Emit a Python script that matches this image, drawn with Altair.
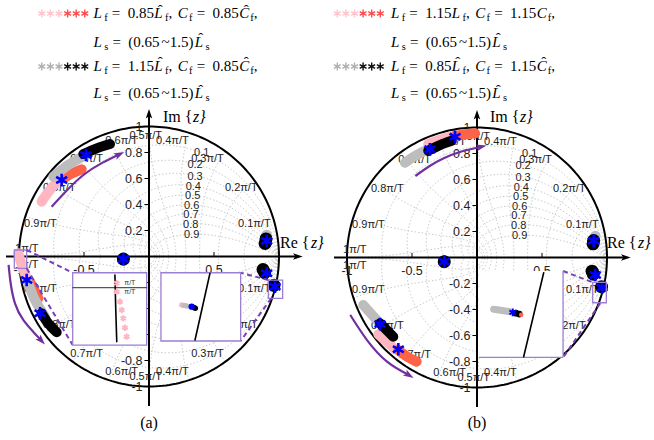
import numpy as np
import pandas as pd
import altair as alt

PW, PH, R = 327, 440, 130.0

# ---------------- shared grid / axis values ----------------
ZETA = [0.1, 0.2, 0.3, 0.4, 0.5, 0.6, 0.7, 0.8, 0.9]
ZETA_LABELS = ["0.1", "0.2", "0.3", "0.4", "0.5", "0.6", "0.7", "0.8", "0.9"]
WN = [0.1, 0.2, 0.3, 0.4, 0.5, 0.6, 0.7, 0.8, 0.9, 1.0]          # x pi/T
WN_LABELS = ["0.1π/T", "0.2π/T", "0.3π/T", "0.4π/T", "0.5π/T",
             "0.6π/T", "0.7π/T", "0.8π/T", "0.9π/T", "1π/T"]
Y_TICKS = [1, 0.8, 0.6, 0.4, 0.2, -0.2, -0.4, -0.6, -0.8, -1]
Y_TICK_LABELS = ["1", "0.8", "0.6", "0.4", "0.2", "-0.2", "-0.4", "-0.6", "-0.8", "-1"]
X_TICKS = [-1, -0.5, 0.5]
X_TICK_LABELS = ["-1", "-0.5", "0.5"]

# ---------------- panel (a) values ----------------
A_UP_PINK = [(-0.826, 0.422), (-0.762, 0.512), (-0.698, 0.583)]
A_UP_RED = [(-0.659, 0.601), (-0.59, 0.64), (-0.518, 0.671)]
A_UP_GRAY = [(-0.736, 0.614), (-0.621, 0.704), (-0.505, 0.773)]
A_UP_BLACK = [(-0.505, 0.788), (-0.402, 0.832), (-0.30, 0.865)]
A_LO_PINK = [(-1.005, 0.025), (-0.979, -0.065), (-0.941, -0.168)]
A_LO_RED = [(-0.915, -0.194), (-0.882, -0.258), (-0.851, -0.322)]
A_LO_GRAY = [(-0.928, -0.206), (-0.877, -0.335), (-0.80, -0.463)]
A_LO_BLACK = [(-0.826, -0.437), (-0.775, -0.514), (-0.71, -0.583)]
A_STARS = [(-0.672, 0.588), (-0.485, 0.781), (-0.941, -0.181), (-0.838, -0.437),
           (-0.197, -0.02), (0.905, 0.12), (0.905, -0.129), (0.969, -0.232)]
A_BLOBS = [(-0.197, -0.02), (0.893, 0.10), (0.90, 0.135), (0.877, -0.10),
           (0.89, -0.125), (0.962, -0.222)]
A_BLOB_GRAY = [(0.905, 0.165)]
A_ARROW_UP = [(-0.749, 0.383), (-0.64, 0.50), (-0.505, 0.627), (-0.36, 0.72), (-0.23, 0.785)]
A_ARROW_LO = [(-1.08, -0.065), (-1.065, -0.2), (-1.031, -0.36), (-0.967, -0.488),
              (-0.89, -0.58), (-0.83, -0.645)]
A_BOXES = [(-1.036, 0.05, -0.941, -0.091), (0.918, -0.181, 1.028, -0.322)]
A_INSETS = [(-0.587, -0.125, -0.018, -0.681), (0.092, -0.125, 0.705, -0.65)]
A_DASHES = [(-0.941, 0.05, -0.587, -0.125), (-0.941, -0.091, -0.587, -0.681),
            (0.918, -0.181, 0.705, -0.125), (0.94, -0.322, 0.705, -0.65)]
A_IN_L_CIRCLE = [(-0.262, -0.142), (-0.256, -0.398), (-0.248, -0.655)]
A_IN_L_AXIS_Y = -0.24
A_IN_L_PINK = [(-0.248, -0.206), (-0.248, -0.27), (-0.223, -0.347), (-0.21, -0.412),
               (-0.198, -0.476), (-0.185, -0.548), (-0.172, -0.617)]
A_IN_L_LABELS = [(-0.19, -0.205), (-0.19, -0.272)]
A_IN_R_CIRCLE = [(0.469, -0.129), (0.354, -0.642)]
A_IN_R_PINK = [(0.252, -0.373)]
A_IN_R_GRAY = [(0.27, -0.376), (0.29, -0.38)]
A_IN_R_BLACK = [(0.345, -0.393), (0.356, -0.398)]
A_IN_R_STAR = [(0.328, -0.386)]
A_LEG_COEF = [("0.85", "0.85"), ("1.15", "0.85")]
A_LEG_HAT = [(True, True), (True, True)]

# ---------------- panel (b) values ----------------
B_UP_PINK = [(-0.375, 0.873), (-0.285, 0.905), (-0.195, 0.935)]
B_UP_RED = [(-0.169, 0.935), (-0.092, 0.948), (-0.015, 0.955)]
B_UP_GRAY = [(-0.554, 0.729), (-0.477, 0.781), (-0.387, 0.827)]
B_UP_BLACK = [(-0.375, 0.822), (-0.285, 0.865), (-0.195, 0.898)]
B_LO_PINK = [(-0.759, -0.591), (-0.695, -0.647), (-0.631, -0.706)]
B_LO_RED = [(-0.605, -0.712), (-0.536, -0.763), (-0.464, -0.801)]
B_LO_GRAY = [(-0.875, -0.365), (-0.818, -0.429), (-0.759, -0.494)]
B_LO_BLACK = [(-0.746, -0.506), (-0.695, -0.558), (-0.644, -0.609)]
B_STARS = [(-0.362, 0.832), (-0.169, 0.929), (-0.746, -0.512), (-0.605, -0.706),
           (-0.252, -0.032), (0.897, 0.129), (0.91, -0.135), (0.962, -0.232)]
B_BLOBS = [(-0.252, -0.032), (0.893, 0.105), (0.897, 0.13), (0.885, -0.105),
           (0.895, -0.128), (0.958, -0.225)]
B_BLOB_GRAY = [(0.91, 0.165)]
B_ARROW_UP = [(-0.474, 0.627), (-0.37, 0.70), (-0.256, 0.763), (-0.12, 0.815), (0.031, 0.852)]
B_ARROW_LO = [(-0.975, -0.442), (-0.846, -0.635), (-0.692, -0.801), (-0.525, -0.904)]
B_BOXES = [(0.89, -0.191, 0.995, -0.348)]
B_INSETS = [(0.015, -0.104, 0.662, -0.768)]
B_DASHES = [(0.662, -0.104, 0.897, -0.194), (0.948, -0.352, 0.667, -0.763)]
B_IN_CIRCLE = [(0.513, -0.117), (0.359, -0.763)]
B_IN_GRAY = [(0.128, -0.398), (0.244, -0.415)]
B_IN_BLACK = [(0.30, -0.428), (0.325, -0.435)]
B_IN_RED = [(0.34, -0.44)]
B_IN_STAR = [(0.275, -0.422)]
B_LEG_COEF = [("1.15", "1.15"), ("0.85", "1.15")]
B_LEG_HAT = [(False, False), (True, True)]

LS_RANGE = ("0.65", "1.5")

# ---------------- layout constants (not data) ----------------
WN_POS_X = [0.81, 0.71, 0.45, 0.18, -0.025, -0.21, -0.48, -0.69, -0.835, -0.94]
WN_POS_Y = [0.25, 0.53, 0.75, 0.89, 0.93, 0.89, 0.75, 0.53, 0.25, 0.055]
ZETA_POS_X = [0.405, 0.354, 0.354, 0.341, 0.336, 0.328, 0.323, 0.321, 0.328]
ZETA_POS_Y = [0.795, 0.705, 0.615, 0.538, 0.462, 0.392, 0.321, 0.244, 0.167]

PINK, RED, GRAY, BLACK, BLUE = "#ffb6c1", "#ff6347", "#bdbdbd", "#000000", "#0000ff"
PURPLE, BOXC = "#7030a0", "#9b7fd4"
ASTER = "M0,-1L0,1M-0.866,-0.5L0.866,0.5M-0.866,0.5L0.866,-0.5"
STEALTH = "M0,-1L0.62,0.85L0,0.4L-0.62,0.85Z"
SERIF, SANS = "Liberation Serif", "Liberation Sans"
S = 15.0

CW = {c: 0.5 for c in "0123456789"}
CW.update({".": 0.278, ",": 0.278, "=": 0.778, "(": 0.389, ")": 0.389, "~": 0.5})
IT_W = {"L": 0.681, "C": 0.715}
SUB_W = {"f": 0.26, "s": 0.30}
HAT_OFF = {"L": 0.40, "C": 0.47}


def eq1(cl, cc, hl, hc):
    return [("it", "L"), ("sub", "f"), ("sp", 0.278), ("rm", "="), ("sp", 0.278),
            ("rm", cl), ("hit" if hl else "it", "L"), ("sub", "f"), ("rm", ","), ("sp", 0.35),
            ("it", "C"), ("sub", "f"), ("sp", 0.278), ("rm", "="), ("sp", 0.278),
            ("rm", cc), ("hit" if hc else "it", "C"), ("sub", "f"), ("rm", ",")]


def eq2():
    return [("it", "L"), ("sub", "s"), ("sp", 0.278), ("rm", "="), ("sp", 0.278),
            ("rm", "(" + LS_RANGE[0]), ("sp", 0.05), ("rm", "~"), ("sp", 0.05),
            ("rm", LS_RANGE[1] + ")"), ("hit", "L"), ("sub", "s")]


def layout(tokens, x0, base):
    rows, x = [], x0
    for kind, t in tokens:
        if kind == "sp":
            x += t * S
        elif kind == "rm":
            rows.append(("rm", x, base, t))
            x += sum(CW[c] for c in t) * S
        elif kind == "it":
            rows.append(("it", x, base, t))
            x += IT_W[t] * S
        elif kind == "hit":
            rows.append(("it", x, base, t))
            rows.append(("hat", x + HAT_OFF[t] * S, base - 3.5, "ˆ"))
            x += IT_W[t] * S
        elif kind == "sub":
            rows.append(("sub", x + 0.5, base + 3.2, t))
            x += SUB_W[t] * S
    return rows


def pts_df(pts, **extra):
    d = pd.DataFrame(pts, columns=["x", "y"])
    d["o"] = range(len(d))
    for k, v in extra.items():
        d[k] = v
    return d


def grid_df():
    rows = []
    th = np.linspace(0, np.pi, 81)
    for i, z in enumerate(ZETA):
        m = z / np.sqrt(1 - z * z)
        zz = np.exp(th * (-m + 1j))
        for s in (1, -1):
            for k in range(len(th)):
                rows.append((f"z{i}{s}", k, zz.real[k], s * zz.imag[k]))
    ph = np.linspace(np.pi / 2, np.pi, 41)
    for i, w in enumerate(WN):
        zw = np.exp(w * np.pi * np.exp(1j * ph))
        for s in (1, -1):
            for k in range(len(ph)):
                rows.append((f"w{i}{s}", k, zw.real[k], s * zw.imag[k]))
    return pd.DataFrame(rows, columns=["id", "o", "x", "y"])


def panel(cx, cy, d, label):
    xs = alt.Scale(domain=[(0 - cx) / R, (PW - cx) / R], nice=False, zero=False)
    ys = alt.Scale(domain=[(cy - PH) / R, cy / R], nice=False, zero=False)
    X = alt.X("x:Q", scale=xs, axis=None)
    Y = alt.Y("y:Q", scale=ys, axis=None)
    X2, Y2 = alt.X2("x2:Q"), alt.Y2("y2:Q")
    tx = lambda px: (px - cx) / R
    ty = lambda py: (cy - py) / R
    L = []

    # z-plane grid
    L.append(alt.Chart(grid_df()).mark_line(color="#bdbdbd", strokeWidth=0.8, strokeDash=[1.5, 2])
             .encode(x=X, y=Y, detail="id:N", order="o:Q"))
    # unit circle
    t = np.linspace(0, 2 * np.pi, 241)
    L.append(alt.Chart(pd.DataFrame({"x": np.cos(t), "y": np.sin(t), "o": range(len(t))}))
             .mark_line(color=BLACK, strokeWidth=2).encode(x=X, y=Y, order="o:Q"))
    # axes
    ax = pd.DataFrame({"x": [-1.10, 0.0], "y": [0.0, -1.15], "x2": [1.14, 0.0], "y2": [0.0, 1.10]})
    L.append(alt.Chart(ax).mark_rule(color=BLACK, strokeWidth=2).encode(x=X, y=Y, x2=X2, y2=Y2))
    heads = pd.DataFrame({"x": [1.142, 0.0], "y": [0.0, 1.095], "a": [90, 0]})
    L.append(alt.Chart(heads).mark_point(shape=STEALTH, filled=True, color=BLACK, size=110, opacity=1)
             .encode(x=X, y=Y, angle=alt.Angle("a:Q", scale=None)))
    tk = pd.DataFrame({"x": [-0.035] * len(Y_TICKS), "y": Y_TICKS, "x2": [0.0] * len(Y_TICKS), "y2": Y_TICKS})
    tk2 = pd.DataFrame({"x": X_TICKS, "y": [0.0] * len(X_TICKS), "x2": X_TICKS, "y2": [0.035] * len(X_TICKS)})
    L.append(alt.Chart(pd.concat([tk, tk2])).mark_rule(color=BLACK, strokeWidth=1).encode(x=X, y=Y, x2=X2, y2=Y2))
    # tick labels
    L.append(alt.Chart(pd.DataFrame({"x": [-0.05] * len(Y_TICKS), "y": Y_TICKS, "t": Y_TICK_LABELS}))
             .mark_text(font=SANS, fontSize=12.5, align="right", baseline="middle", color="#222")
             .encode(x=X, y=Y, text="t:N"))
    L.append(alt.Chart(pd.DataFrame({"x": X_TICKS, "y": [-0.105] * len(X_TICKS), "t": X_TICK_LABELS}))
             .mark_text(font=SANS, fontSize=12.5, align="center", baseline="middle", color="#222")
             .encode(x=X, y=Y, text="t:N"))
    # grid labels
    wl = pd.DataFrame({"x": WN_POS_X + WN_POS_X, "y": WN_POS_Y + [-v if v > 0.1 else -0.065 for v in WN_POS_Y],
                       "t": WN_LABELS + WN_LABELS})
    L.append(alt.Chart(wl).mark_text(font=SANS, fontSize=11, align="center", baseline="middle", color="#222")
             .encode(x=X, y=Y, text="t:N"))
    zl = pd.DataFrame({"x": ZETA_POS_X, "y": ZETA_POS_Y, "t": ZETA_LABELS})
    L.append(alt.Chart(zl).mark_text(font=SANS, fontSize=11, align="center", baseline="middle", color="#222")
             .encode(x=X, y=Y, text="t:N"))
    # axis names
    L.append(alt.Chart(pd.DataFrame({"x": [tx(163), tx(280)], "y": [ty(117), ty(243)], "t": ["Im {", "Re {"]}))
             .mark_text(font=SERIF, fontSize=16, align="left", baseline="middle", color=BLACK)
             .encode(x=X, y=Y, text="t:N"))
    L.append(alt.Chart(pd.DataFrame({"x": [tx(193), tx(311)], "y": [ty(117), ty(243)], "t": ["z}", "z}"]}))
             .mark_text(font=SERIF, fontSize=16, fontStyle="italic", align="left", baseline="middle", color=BLACK)
             .encode(x=X, y=Y, text="t:N"))

    # trails
    segs = []
    for i, (pts, col) in enumerate([(d["up_pink"], PINK), (d["up_red"], RED), (d["lo_pink"], PINK),
                                    (d["lo_red"], RED), (d["up_gray"], GRAY), (d["up_black"], BLACK),
                                    (d["lo_gray"], GRAY), (d["lo_black"], BLACK)]):
        segs.append(pts_df(pts, seg=i, c=col))
    L.append(alt.Chart(pd.concat(segs)).mark_line(strokeWidth=10, strokeCap="round", strokeJoin="round",
                                                  interpolate="natural")
             .encode(x=X, y=Y, detail="seg:N", order="o:Q", color=alt.Color("c:N", scale=None)))
    # blobs
    L.append(alt.Chart(pts_df(d["blob_gray"])).mark_circle(color=GRAY, size=110, opacity=1).encode(x=X, y=Y))
    L.append(alt.Chart(pts_df(d["blobs"])).mark_circle(color=BLACK, size=170, opacity=1).encode(x=X, y=Y))
    # blue stars
    L.append(alt.Chart(pts_df(d["stars"])).mark_point(shape=ASTER, filled=False, color=BLUE, size=160,
                                                      strokeWidth=2.6, opacity=1).encode(x=X, y=Y))
    # purple arrows
    arr = [pts_df(d["arrow_up"], seg=0), pts_df(d["arrow_lo"], seg=1)]
    L.append(alt.Chart(pd.concat(arr)).mark_line(color=PURPLE, strokeWidth=2.2, interpolate="natural")
             .encode(x=X, y=Y, detail="seg:N", order="o:Q"))
    hh = []
    for a in (d["arrow_up"], d["arrow_lo"]):
        (x0, y0), (x1, y1) = a[-2], a[-1]
        hh.append((x1, y1, float(np.degrees(np.arctan2(x1 - x0, y1 - y0)) % 360)))
    L.append(alt.Chart(pd.DataFrame(hh, columns=["x", "y", "a"]))
             .mark_point(shape=STEALTH, filled=True, color=PURPLE, size=130, opacity=1)
             .encode(x=X, y=Y, angle=alt.Angle("a:Q", scale=None)))
    # small zoom boxes
    bx = pd.DataFrame(d["boxes"], columns=["x", "y", "x2", "y2"])
    L.append(alt.Chart(bx).mark_rect(fill=None, fillOpacity=0, stroke=BOXC, strokeWidth=1.3)
             .encode(x=X, y=Y, x2=X2, y2=Y2))
    # dashed connectors
    ds = pd.DataFrame(d["dashes"], columns=["x", "y", "x2", "y2"])
    L.append(alt.Chart(ds).mark_rule(color="#7b3fb8", strokeWidth=2, strokeDash=[5, 3.5])
             .encode(x=X, y=Y, x2=X2, y2=Y2))
    # insets
    ins = pd.DataFrame(d["insets"], columns=["x", "y", "x2", "y2"])
    if d["inset_border"]:
        L.append(alt.Chart(ins).mark_rect(fill="white", stroke=BOXC, strokeWidth=1.3)
                 .encode(x=X, y=Y, x2=X2, y2=Y2))
    else:
        L.append(alt.Chart(ins).mark_rect(fill="white").encode(x=X, y=Y, x2=X2, y2=Y2))
        x0, y0, x1, y1 = d["insets"][0]
        br = pd.DataFrame({"x": [x1, x0], "y": [y0, y1], "x2": [x1, x1], "y2": [y1, y1]})
        L.append(alt.Chart(br).mark_rule(color=BOXC, strokeWidth=1.3).encode(x=X, y=Y, x2=X2, y2=Y2))
    for k, (pts, col, w) in enumerate(d["in_lines"]):
        L.append(alt.Chart(pts_df(pts)).mark_line(color=col, strokeWidth=w, strokeCap="round", interpolate="natural")
                 .encode(x=X, y=Y, order="o:Q"))
    for pts, kind, col, size in d["in_pts"]:
        if kind == "aster":
            L.append(alt.Chart(pts_df(pts)).mark_point(shape=ASTER, filled=False, color=col, size=size,
                                                       strokeWidth=2, opacity=1).encode(x=X, y=Y))
        else:
            L.append(alt.Chart(pts_df(pts)).mark_circle(color=col, size=size, opacity=1).encode(x=X, y=Y))
    if d["in_labels"]:
        L.append(alt.Chart(pts_df(d["in_labels"], t="π/T")).mark_text(font=SANS, fontSize=7, align="left",
                                                                      baseline="middle", color="#333")
                 .encode(x=X, y=Y, text="t:N"))

    # legend
    ax0, tx0 = d["leg_ast_x0"], d["leg_text_x0"]
    lrows = []
    for j, (yy, cols) in enumerate([(13.5, d["leg_cols"][0]), (66.5, d["leg_cols"][1])]):
        for k in range(6):
            lrows.append((tx(ax0 + 8.6 * k), ty(yy), cols[0] if k < 3 else cols[1]))
    L.append(alt.Chart(pd.DataFrame(lrows, columns=["x", "y", "c"]))
             .mark_point(shape=ASTER, filled=False, size=62, strokeWidth=1.4, opacity=1)
             .encode(x=X, y=Y, color=alt.Color("c:N", scale=None)))
    rows = []
    for j, base in enumerate([18.0, 70.5]):
        rows += layout(eq1(d["leg_coef"][j][0], d["leg_coef"][j][1], d["leg_hat"][j][0], d["leg_hat"][j][1]),
                       tx0, base)
    for base in [46.5, 98.0]:
        rows += layout(eq2(), tx0, base)
    tr = pd.DataFrame(rows, columns=["k", "px", "py", "t"])
    tr["x"] = tr["px"].map(tx)
    tr["y"] = tr["py"].map(ty)
    styles = {"rm": dict(fontSize=S), "it": dict(fontSize=S, fontStyle="italic"),
              "sub": dict(fontSize=S * 0.7), "hat": dict(fontSize=S, align="center")}
    for k, st in styles.items():
        sub = tr[tr["k"] == k]
        if len(sub) == 0:
            continue
        kw = dict(font=SERIF, align="left", baseline="alphabetic", color=BLACK)
        kw.update(st)
        L.append(alt.Chart(sub).mark_text(**kw).encode(x=X, y=Y, text="t:N"))
    # caption
    L.append(alt.Chart(pd.DataFrame({"x": [0.0], "y": [ty(423)], "t": [label]}))
             .mark_text(font=SERIF, fontSize=16, align="center", baseline="middle", color=BLACK)
             .encode(x=X, y=Y, text="t:N"))
    return alt.layer(*L).properties(width=PW, height=PH)


A = dict(up_pink=A_UP_PINK, up_red=A_UP_RED, up_gray=A_UP_GRAY, up_black=A_UP_BLACK,
         lo_pink=A_LO_PINK, lo_red=A_LO_RED, lo_gray=A_LO_GRAY, lo_black=A_LO_BLACK,
         stars=A_STARS, blobs=A_BLOBS, blob_gray=A_BLOB_GRAY, arrow_up=A_ARROW_UP, arrow_lo=A_ARROW_LO,
         boxes=A_BOXES, dashes=A_DASHES, insets=A_INSETS, inset_border=True,
         in_lines=[([(A_INSETS[0][0], A_IN_L_AXIS_Y), (A_INSETS[0][2], A_IN_L_AXIS_Y)], "#555555", 1.2),
                   (A_IN_L_CIRCLE, BLACK, 1.6), (A_IN_R_CIRCLE, BLACK, 1.6)],
         in_pts=[(A_IN_L_PINK, "aster", PINK, 40), (A_IN_R_PINK, "circle", PINK, 30),
                 (A_IN_R_GRAY, "circle", GRAY, 30), (A_IN_R_BLACK, "circle", BLACK, 30),
                 (A_IN_R_STAR, "circle", BLUE, 40)],
         in_labels=A_IN_L_LABELS,
         leg_ast_x0=41.8, leg_text_x0=93.5, leg_cols=[("#ffc4cd", "#ff4d4d"), ("#b0b0b0", "#111111")],
         leg_coef=A_LEG_COEF, leg_hat=A_LEG_HAT)
B = dict(up_pink=B_UP_PINK, up_red=B_UP_RED, up_gray=B_UP_GRAY, up_black=B_UP_BLACK,
         lo_pink=B_LO_PINK, lo_red=B_LO_RED, lo_gray=B_LO_GRAY, lo_black=B_LO_BLACK,
         stars=B_STARS, blobs=B_BLOBS, blob_gray=B_BLOB_GRAY, arrow_up=B_ARROW_UP, arrow_lo=B_ARROW_LO,
         boxes=B_BOXES, dashes=B_DASHES, insets=B_INSETS, inset_border=False,
         in_lines=[(B_IN_CIRCLE, BLACK, 1.6), (B_IN_GRAY, GRAY, 7)],
         in_pts=[(B_IN_BLACK, "circle", BLACK, 45), (B_IN_RED, "circle", RED, 20),
                 (B_IN_STAR, "aster", BLUE, 60)],
         in_labels=[],
         leg_ast_x0=10.3, leg_text_x0=64.0, leg_cols=[("#ffc4cd", "#ff4d4d"), ("#b0b0b0", "#111111")],
         leg_coef=B_LEG_COEF, leg_hat=B_LEG_HAT)

chart = alt.hconcat(panel(149.0, 256.5, A, "(a)"), panel(150.0, 257.5, B, "(b)"), spacing=0).properties(
    padding=0).configure_view(stroke=None).configure_concat(spacing=0)

chart.save("out.html", embed_options={"renderer": "svg", "actions": False})
